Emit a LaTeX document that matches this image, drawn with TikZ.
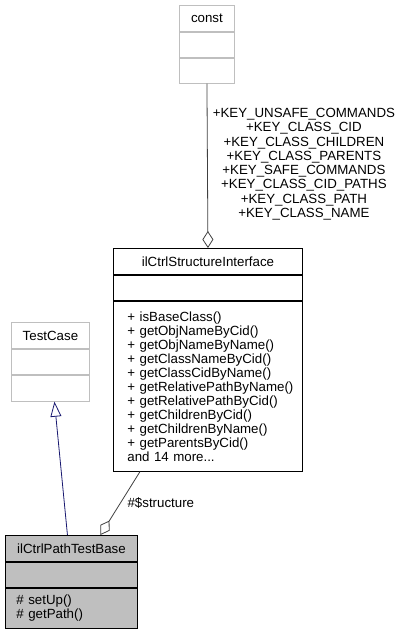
\documentclass[tikz,border=0pt]{standalone}
\usepackage{fontspec}
\setmainfont{Liberation Sans}
\usetikzlibrary{positioning,arrows.meta}
\definecolor{frame}{HTML}{BFBFBF}
\definecolor{navy}{HTML}{191970}
\definecolor{edge}{HTML}{404040}
\newcommand{\doxfont}{\fontsize{13.3}{14}\selectfont}
\tikzset{
  cell/.style={rectangle,draw=#1,fill=white,line width=0.9pt,inner sep=0pt,anchor=north west},
  cell/.default=black,
  aggr/.style={-{Diamond[open,length=17pt,width=11pt]},line width=0.8pt,draw=edge},
  inherit/.style={-{Triangle[open,length=15pt,width=11pt]},line width=0.8pt,draw=navy},
}
\begin{document}
\begin{tikzpicture}[x=1pt,y=-1pt,font=\doxfont]
  \useasboundingbox (0,0) rectangle (402,632);
  % class titles and empty attribute rows
  \foreach \id/\x/\y/\w/\title/\col/\bg in {
    cst/179/5/55/const/frame/white,
    tc/11/322/78/TestCase/frame/white,
    si/113/248/189/ilCtrlStructureInterface/black/white,
    base/5/535/132/ilCtrlPathTestBase/black/frame%
  }{
    \node[cell=\col,fill=\bg,minimum width=\w pt,minimum height=26pt] (\id) at (\x,\y) {\title};
    \node[cell=\col,fill=\bg,minimum width=\w pt,minimum height=25pt,
          below=0pt of \id.south west,anchor=north west] (\id-attr) {};
  }
  % operation rows
  \node[cell=frame,minimum width=55pt,minimum height=25pt,below=0pt of cst-attr.south west,anchor=north west] (cst-ops) {};
  \node[cell=frame,minimum width=78pt,minimum height=26pt,below=0pt of tc-attr.south west,anchor=north west] (tc-ops) {};
  \node[cell,inner xsep=14pt,text width=161pt,minimum height=170pt,align=left,
        execute at begin node={\hyphenpenalty=10000},
        below=0pt of si-attr.south west,anchor=north west] (si-ops)
    {+~isBaseClass()\\+~getObjNameByCid()\\+~getObjNameByName()\\+~getClassNameByCid()\\
     +~getClassCidByName()\\+~getRelativePathByName()\\+~getRelativePathByCid()\\
     +~getChildrenByCid()\\+~getChildrenByName()\\+~getParentsByCid()\\and 14 more...};
  \node[cell,fill=frame,inner xsep=11pt,text width=110pt,minimum height=40pt,align=left,
        below=0pt of base-attr.south west,anchor=north west] (base-ops)
    {\#~setUp()\\\#~getPath()};

  % relations
  \draw[aggr] (cst-ops.south) -- (si.north)
    node[pos=0.49,anchor=west,align=center,inner sep=2pt,xshift=3pt,font=\fontsize{13.3}{14.3}\selectfont]
    {+KEY\_UNSAFE\_COMMANDS\\+KEY\_CLASS\_CID\\+KEY\_CLASS\_CHILDREN\\+KEY\_CLASS\_PARENTS\\
     +KEY\_SAFE\_COMMANDS\\+KEY\_CLASS\_CID\_PATHS\\+KEY\_CLASS\_PATH\\+KEY\_CLASS\_NAME};
  \draw[inherit] ([xshift=-4pt]base.north) -- ([xshift=4pt]tc-ops.south);
  \draw[aggr] ([xshift=-68pt]si-ops.south) -- ([xshift=29pt]base.north)
    node[pos=0.5,anchor=west,inner sep=2pt,xshift=5pt] {\#\$structure};
\end{tikzpicture}
\end{document}
